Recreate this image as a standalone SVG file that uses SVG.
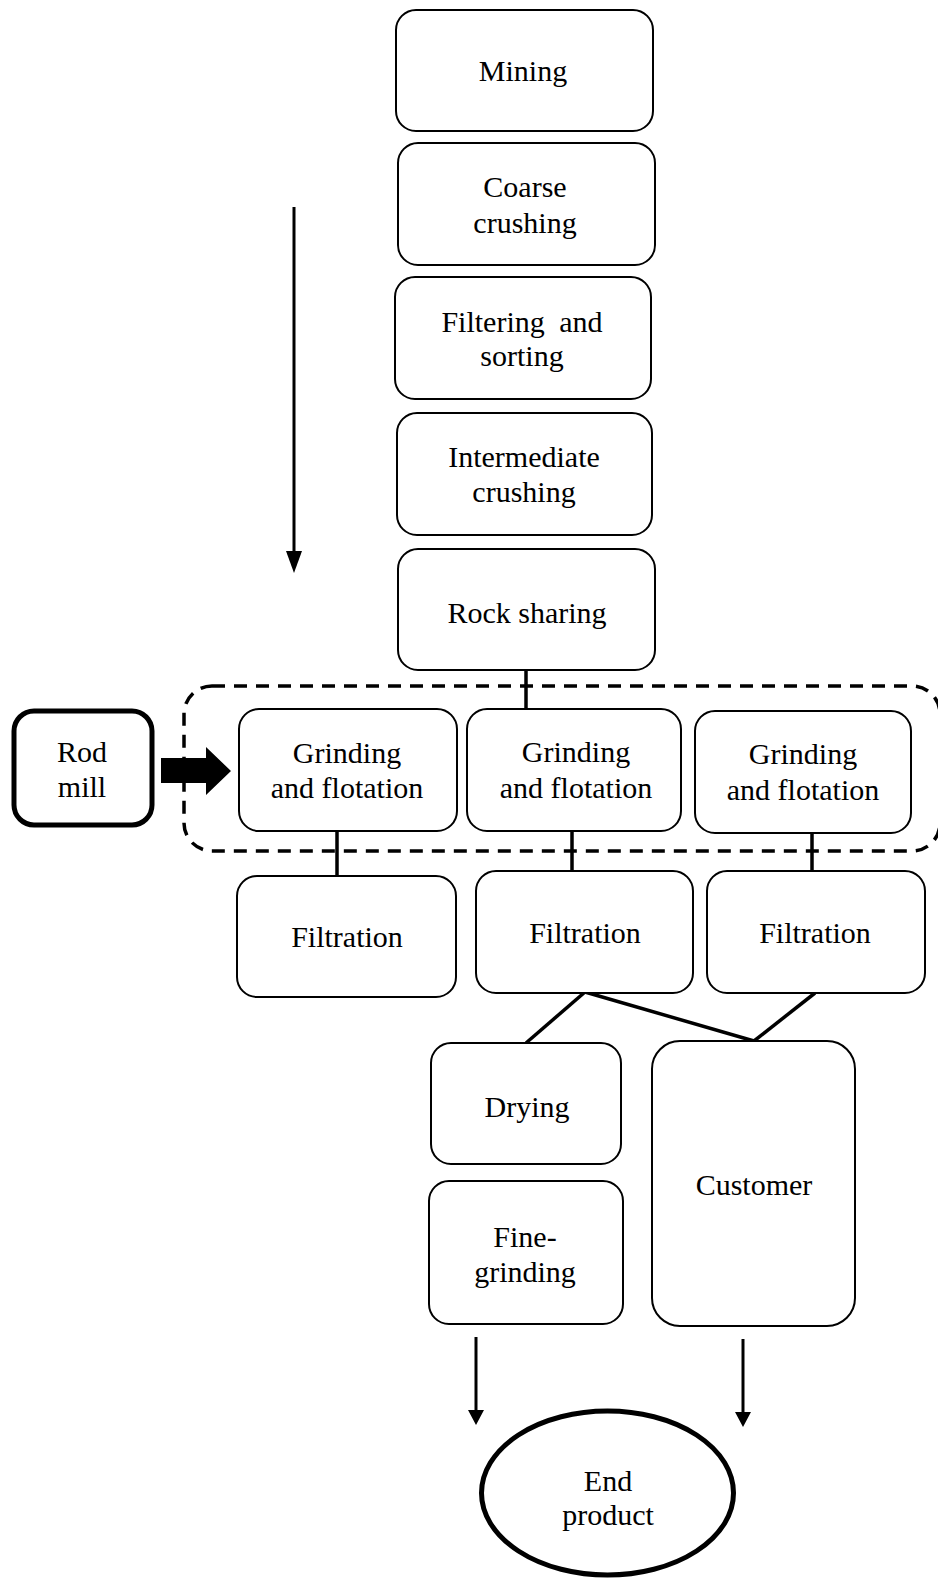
<svg xmlns="http://www.w3.org/2000/svg" width="938" height="1579" viewBox="0 0 938 1579">
<defs>
<style>
.box{fill:#fff;stroke:#000;stroke-width:2}
.thick{fill:#fff;stroke:#000;stroke-width:5}
.lbl{font-family:"Liberation Serif","Times New Roman",serif;font-size:30px;fill:#000;text-anchor:middle}
.con{stroke:#000;stroke-width:3.5;fill:none}
.arr{stroke:#000;stroke-width:3;fill:none}
</style>
<marker id="headL" viewBox="0 0 22 16" refX="0" refY="8" markerWidth="22" markerHeight="16" markerUnits="userSpaceOnUse" orient="auto">
<path d="M0,0 L22,8 L0,16 z" fill="#000"/>
</marker>
<marker id="headS" viewBox="0 0 15 16" refX="0" refY="8" markerWidth="15" markerHeight="16" markerUnits="userSpaceOnUse" orient="auto">
<path d="M0,0 L15,8 L0,16 z" fill="#000"/>
</marker>
</defs>
<rect width="938" height="1579" fill="#fff"/>

<g id="group-boundary">
<rect x="184" y="686" width="756" height="165" rx="28" ry="28" fill="none" stroke="#000" stroke-width="3.5" stroke-dasharray="13 9"/>
</g>

<g id="connectors">
<line class="con" x1="526" y1="670" x2="526" y2="709"/>
<line class="con" x1="337" y1="831" x2="337" y2="876"/>
<line class="con" x1="572" y1="831" x2="572" y2="871"/>
<line class="con" x1="812" y1="833" x2="812" y2="871"/>
<line class="con" x1="585" y1="992" x2="526" y2="1043"/>
<line class="con" x1="585" y1="992" x2="754" y2="1041"/>
<line class="con" x1="815" y1="993" x2="754" y2="1041"/>
<line class="arr" x1="294" y1="207" x2="294" y2="551" marker-end="url(#headL)"/>
<line class="arr" x1="476" y1="1337" x2="476" y2="1410" marker-end="url(#headS)"/>
<line class="arr" x1="743" y1="1339" x2="743" y2="1412" marker-end="url(#headS)"/>
<polygon points="161,758 206,758 206,747 231,771 206,795 206,783 161,783" fill="#000"/>
</g>

<g id="mining">
<rect class="box" x="396" y="10" width="257" height="121" rx="20"/>
<text class="lbl" x="523" y="81">Mining</text>
</g>
<g id="coarse-crushing">
<rect class="box" x="398" y="143" width="257" height="122" rx="20"/>
<text class="lbl" x="525" y="197">Coarse</text>
<text class="lbl" x="525" y="233">crushing</text>
</g>
<g id="filtering-sorting">
<rect class="box" x="395" y="277" width="256" height="122" rx="20"/>
<text class="lbl" x="522" y="332" style="word-spacing:7px">Filtering and</text>
<text class="lbl" x="522" y="366">sorting</text>
</g>
<g id="intermediate-crushing">
<rect class="box" x="397" y="413" width="255" height="122" rx="20"/>
<text class="lbl" x="524" y="467">Intermediate</text>
<text class="lbl" x="524" y="502">crushing</text>
</g>
<g id="rock-sharing">
<rect class="box" x="398" y="549" width="257" height="121" rx="20"/>
<text class="lbl" x="527" y="623">Rock sharing</text>
</g>

<g id="rod-mill">
<rect class="thick" x="14" y="711" width="138" height="114" rx="20"/>
<text class="lbl" x="82" y="762">Rod</text>
<text class="lbl" x="82" y="797">mill</text>
</g>

<g id="grinding-1">
<rect class="box" x="239" y="709" width="218" height="122" rx="20"/>
<text class="lbl" x="347" y="763">Grinding</text>
<text class="lbl" x="347" y="798">and flotation</text>
</g>
<g id="grinding-2">
<rect class="box" x="467" y="709" width="214" height="122" rx="20"/>
<text class="lbl" x="576" y="762">Grinding</text>
<text class="lbl" x="576" y="798">and flotation</text>
</g>
<g id="grinding-3">
<rect class="box" x="695" y="711" width="216" height="122" rx="20"/>
<text class="lbl" x="803" y="764">Grinding</text>
<text class="lbl" x="803" y="800">and flotation</text>
</g>

<g id="filtration-1">
<rect class="box" x="237" y="876" width="219" height="121" rx="20"/>
<text class="lbl" x="347" y="947">Filtration</text>
</g>
<g id="filtration-2">
<rect class="box" x="476" y="871" width="217" height="122" rx="20"/>
<text class="lbl" x="585" y="943">Filtration</text>
</g>
<g id="filtration-3">
<rect class="box" x="707" y="871" width="218" height="122" rx="20"/>
<text class="lbl" x="815" y="943">Filtration</text>
</g>

<g id="drying">
<rect class="box" x="431" y="1043" width="190" height="121" rx="20"/>
<text class="lbl" x="527" y="1117">Drying</text>
</g>
<g id="fine-grinding">
<rect class="box" x="429" y="1181" width="194" height="143" rx="20"/>
<text class="lbl" x="525" y="1247">Fine-</text>
<text class="lbl" x="525" y="1282">grinding</text>
</g>
<g id="customer">
<rect class="box" x="652" y="1041" width="203" height="285" rx="28"/>
<text class="lbl" x="754" y="1195">Customer</text>
</g>

<g id="end-product">
<ellipse cx="607.5" cy="1493" rx="126" ry="82" fill="#fff" stroke="#000" stroke-width="5"/>
<text class="lbl" x="608" y="1491">End</text>
<text class="lbl" x="608" y="1525">product</text>
</g>
</svg>
